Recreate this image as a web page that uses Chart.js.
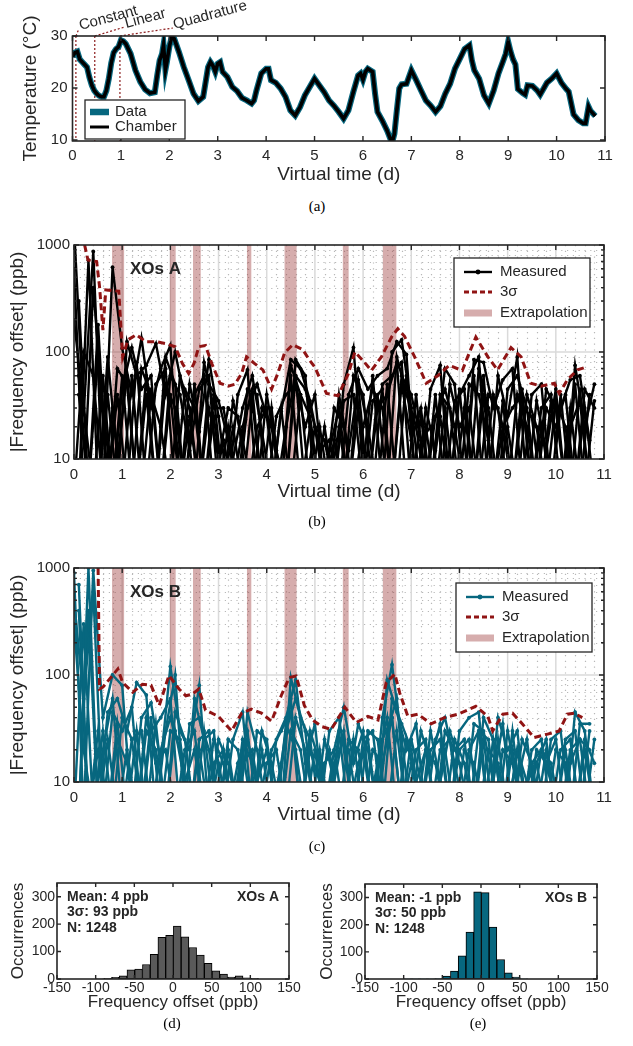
<!DOCTYPE html>
<html><head><meta charset="utf-8">
<script src="https://cdn.jsdelivr.net/npm/chart.js@4.4.0/dist/chart.umd.min.js"></script>
<style>
html,body{margin:0;padding:0;background:#fff;width:633px;height:1046px;overflow:hidden;position:relative}
canvas{position:absolute}
.cap{position:absolute;font-family:"Liberation Serif","Times New Roman",serif;font-size:15px;color:#000;transform:translate(-50%,-50%);white-space:nowrap}
</style></head><body>
<canvas id="ca" width="633" height="195" style="left:0;top:0"></canvas>
<canvas id="cb" width="633" height="290" style="left:0;top:230px"></canvas>
<canvas id="cc" width="633" height="290" style="left:0;top:550px"></canvas>
<canvas id="cd" width="316" height="155" style="left:0;top:860px"></canvas>
<canvas id="ce" width="317" height="155" style="left:316px;top:860px"></canvas>
<div class="cap" style="left:317px;top:206px">(a)</div>
<div class="cap" style="left:317px;top:521px">(b)</div>
<div class="cap" style="left:317px;top:846px">(c)</div>
<div class="cap" style="left:172px;top:1023px">(d)</div>
<div class="cap" style="left:478px;top:1023px">(e)</div>
<script>
// ---------------- DATA ----------------
// (a) temperature
const tempDays = [0,0.05,0.1,0.15,0.2,0.25,0.3,0.35,0.4,0.45,
  0.5,0.55,0.6,0.65,0.7,0.75,0.8,0.85,0.9,0.95,
  1.0,1.05,1.1,1.2,1.3,1.4,1.5,1.6,1.7,1.75,
  1.8,1.85,1.88,1.92,1.95,2.0,2.05,2.1,2.2,2.3,
  2.4,2.5,2.6,2.7,2.8,2.85,2.9,2.95,3.0,3.05,
  3.1,3.2,3.3,3.4,3.5,3.6,3.7,3.75,3.8,3.9,
  4.0,4.05,4.1,4.2,4.3,4.4,4.5,4.6,4.7,4.8,
  4.9,5.0,5.1,5.2,5.3,5.4,5.5,5.6,5.7,5.8,
  5.9,5.95,6.0,6.05,6.1,6.2,6.25,6.3,6.4,6.5,
  6.6,6.65,6.7,6.75,6.8,6.9,7.0,7.1,7.2,7.3,
  7.4,7.5,7.6,7.7,7.8,7.9,8.0,8.1,8.2,8.25,
  8.3,8.4,8.5,8.6,8.7,8.8,8.9,8.95,9.0,9.05,
  9.1,9.15,9.2,9.3,9.35,9.4,9.5,9.6,9.66,9.8,
  9.9,10.0,10.1,10.2,10.25,10.35,10.45,10.55,10.6,10.66,
  10.7,10.8];
const tempC = [26.0,26.8,27.0,25.5,25.0,24.5,24.0,22.0,20.5,19.5,
  18.9,18.5,18.3,18.3,19.5,21.8,24.8,26.8,27.5,27.9,
  29.2,29.0,28.5,26.6,23.4,21.2,19.7,19.0,19.2,22.4,
  25.3,26.6,28.3,23.5,25.0,27.9,29.9,29.5,26.9,24.0,
  21.5,18.9,17.5,18.3,24.0,25.0,24.3,23.1,24.7,25.0,
  23.1,22.1,20.2,19.4,18.1,17.6,17.0,17.6,19.5,22.8,
  23.7,23.7,21.5,21.0,19.9,18.3,15.7,14.7,16.3,18.6,
  20.2,21.8,20.5,19.2,17.6,16.6,15.4,14.1,15.7,19.2,
  22.4,22.8,21.6,23.1,23.7,23.1,18.9,15.4,13.7,11.8,
  9.4,11.2,15.7,19.9,20.7,20.8,23.4,21.5,19.5,17.6,
  16.6,15.4,16.5,18.9,20.8,23.7,25.6,27.5,28.2,25.3,
  23.4,21.8,18.6,17.0,19.5,22.8,25.3,26.6,28.9,27.0,
  25.5,24.5,19.8,19.0,18.7,20.5,20.4,19.5,18.7,21.0,
  21.8,22.8,21.0,19.8,19.3,14.9,13.8,13.2,13.2,16.4,
  15.6,14.6];
const fitMarkers = [0.07, 0.46, 0.98];
const fitLabels = ['Constant', 'Linear', 'Quadrature'];

// (b),(c) sampling times (days)
const tEven = [0,0.2,0.4,0.6,0.8,1,1.2,1.4,1.6,1.8,2,2.2,2.4,2.6,2.8,3,3.2,3.4,3.6,3.8,4,4.2,4.4,4.6,4.8,5,5.2,5.4,5.6,5.8,6,6.2,6.4,6.6,6.8,7,7.2,7.4,7.6,7.8,8,8.2,8.4,8.6,8.8,9,9.2,9.4,9.6,9.8,10,10.2,10.4,10.6,10.8];
const tOdd = [0.1,0.3,0.5,0.7,0.9,1.1,1.3,1.5,1.7,1.9,2.1,2.3,2.5,2.7,2.9,3.1,3.3,3.5,3.7,3.9,4.1,4.3,4.5,4.7,4.9,5.1,5.3,5.5,5.7,5.9,6.1,6.3,6.5,6.7,6.9,7.1,7.3,7.5,7.7,7.9,8.1,8.3,8.5,8.7,8.9,9.1,9.3,9.5,9.7,9.9,10.1,10.3,10.5,10.7];

// (b) XOs A |frequency offset| (ppb)
const xoA1 = [1500,26,870,5,620, 108,40,135,30,70, 115,5,50,18,85, 25,5,40,68,5, 40,12,5,85,60, 5,20,5,50,110, 8,60,5,100,130, 30,5,45,75,5, 40,60,90,5,60, 25,90,5,35,12, 45,5,75,20,50];
const xoA2 = [5,720,5,40,5, 125,60,75,120,40, 100,35,5,80,30, 30,10,30,60,18, 5,28,85,70,35, 12,15,5,40,70, 45,60,70,125,95, 5,30,12,70,50, 5,85,80,30,55, 70,5,40,50,5, 30,55,60,15];
const xoA3 = [600,5,400,30,5, 45,110,45,60,5, 60,40,12,45,60, 5,20,5,45,40, 5,25,40,50,20, 40,5,15,5,60, 40,5,50,60,80, 5,25,5,40,30, 5,50,40,15,5, 45,60,30,5,30, 20,40,5,45,30];
const xoA4 = [300,5,180,5,40, 5,80,5,50,70, 5,45,30,5,40, 5,35,15,5,30, 20,5,60,5,20, 5,12,30,5,30, 5,40,5,90,40, 20,5,40,5,35, 45,5,60,5,35, 5,45,5,30,40, 5,30,5,40];
const xoA5 = [200,30,5,60,5, 60,5,70,40,20, 5,60,30,5,50, 35,15,5,30,50, 25,5,20,60,45, 20,5,30,20,5, 20,45,30,5,60, 40,15,20,5,50, 20,30,5,40,30, 5,40,20,5,45, 30,5,50,5,35];
const xoA6 = [40,5,100,5,70, 50,5,60,5,90, 50,5,40,60,5, 15,5,20,45,5, 30,5,75,40,5, 20,5,40,12,50, 5,30,40,80,5, 40,5,25,45,20, 5,60,5,40,20, 30,40,5,20,5, 40,5,45,5];
const xoA7 = [5,100,60,5,30, 5,60,5,45,5, 40,5,25,5,30, 10,30,25,5,20, 30,5,5,60,5, 20,15,5,35,40, 5,35,45,5,50, 15,30,5,25,5, 45,5,70,30,5, 20,5,40,20,5, 35,20,5,30,5];
const xoA8 = [60,5,5,90,10, 60,5,40,5,50, 30,5,50,5,25, 5,20,5,35,5, 5,30,5,40,25, 5,5,20,5,55, 20,5,50,5,60, 5,20,5,30,5, 30,5,40,5,20, 5,30,25,5,35, 5,20,35,5];
const sigmaA_t = [0.22,0.29,0.47,0.53,0.6,0.66,0.93,1.01,1.12,1.29,1.49,1.7,1.9,2.1,2.25,2.38,2.49,2.59,2.73,2.86,3.03,3.2,3.34,3.48,3.58,3.75,3.92,4.1,4.23,4.37,4.54,4.75,4.88,5.0,5.24,5.48,5.69,5.83,6.03,6.17,6.38,6.59,6.72,6.86,7.07,7.31,7.55,7.79,8.06,8.17,8.34,8.59,8.79,9.07,9.28,9.48,9.69,9.97,10.07,10.24,10.45,10.62];
const sigmaA_v = [1000,724,700,409,160,380,370,90,130,145,125,125,120,112,78,63,78,112,115,78,51,48,50,63,90,78,68,45,63,98,117,105,85,72,41,39,62,100,80,67,90,138,165,140,90,51,60,75,67,90,138,90,68,110,90,51,48,51,41,55,68,72];

// (c) XOs B |frequency offset| (ppb)
const xoB1 = [900,5,950,40,100, 80,5,40,55,15, 120,30,20,80,5, 25,15,5,45,20, 5,25,40,90,15, 35,5,20,50,15, 30,5,40,125,25, 5,30,15,35,5, 30,40,45,5,40, 20,30,5,20,15, 25,5,45,30,5];
const xoB2 = [5,1000,5,45,60, 30,85,65,5,30, 100,5,60,25,30, 5,25,45,5,30, 15,5,95,40,25, 5,30,40,10,35, 20,5,90,45,20, 35,5,25,40,15, 5,35,30,10,35, 5,25,15,5,25, 30,5,35,35];
const xoB3 = [500,60,600,5,45, 30,50,5,30,40, 60,5,35,40,20, 5,25,20,5,30, 25,5,30,60,30, 5,25,10,30,5, 25,30,5,60,35, 20,5,30,10,30, 15,5,30,25,5, 30,10,25,5,20, 5,25,30,5,25];
const xoB4 = [700,5,30,5,35, 5,30,5,35,5, 45,25,5,30,5, 20,5,25,15,5, 20,30,45,5,30, 15,5,25,20,5, 30,25,5,30,5, 20,25,5,30,20, 25,5,40,25,5, 30,5,20,25,5, 20,25,5,30];
const xoB5 = [300,20,5,30,5, 40,25,5,40,5, 30,25,5,25,30, 5,20,5,25,10, 20,5,35,20,5, 20,5,15,25,5, 20,5,25,40,5, 25,10,5,20,25, 5,20,30,5,25, 5,20,5,15,25, 5,20,5,25,15];
const xoB6 = [400,5,20,5,25, 15,5,30,20,5, 30,10,20,5,25, 15,5,20,5,20, 5,15,60,5,20, 10,20,5,25,20, 5,15,40,5,25, 10,20,5,20,5, 20,15,5,25,5, 20,5,15,20,10, 5,15,25,20];
const xoB7 = [5,300,5,20,60, 5,25,30,5,20, 40,20,5,20,5, 15,5,15,30,5, 15,20,5,40,20, 5,15,20,5,25, 5,20,15,40,5, 15,5,20,25,5, 20,25,5,20,15, 5,20,10,15,5, 20,15,5,20,5];
const xoB8 = [5,400,5,25,5, 20,5,40,15,20, 5,20,30,5,15, 20,5,15,20,5, 10,5,30,20,5, 20,5,30,5,15, 25,5,30,60,5, 5,20,15,5,25, 15,5,25,5,20, 15,5,5,20,15, 5,20,25,5];
const sigmaB_t = [0.5,0.53,0.6,0.74,0.91,1.01,1.22,1.42,1.6,1.77,1.97,2.18,2.32,2.45,2.59,2.73,3.0,3.27,3.48,3.68,3.89,4.1,4.3,4.47,4.61,4.78,4.95,5.14,5.34,5.62,5.86,6.1,6.31,6.48,6.66,6.76,6.93,7.14,7.41,7.69,7.97,8.34,8.59,8.69,8.9,9.1,9.28,9.55,9.83,10.07,10.24,10.38,10.55];
const sigmaB_v = [1000,74,77,92,114,85,69,82,80,52,99,74,64,66,74,47,41,30,44,48,44,37,64,95,98,52,38,33,31,50,36,41,38,85,102,68,41,43,35,40,43,51,41,30,43,44,36,26,28,30,43,44,40];

// extrapolation windows (days)
const extrapStart = [0.79, 1.99, 2.47, 3.59, 4.37, 5.58, 6.41];
const extrapEnd   = [1.04, 2.11, 2.63, 3.68, 4.62, 5.70, 6.69];

// (d),(e) histograms
const histCenters = [-94.5,-84.5,-74.5,-64.5,-54.5,-44.5,-34.5,-24.5,-14.5,-4.5,5.5,15.5,25.5,35.5,45.5,55.5,65.5,75.5,85.5,95.5,105.5];
const histCountsA = [1,2,6,12,33,36,53,90,152,159,193,154,115,87,57,30,18,7,12,4,2];
const histCountsB = [1,1,1,1,2,11,29,85,173,321,318,191,72,23,7,1,0,0,0,0,0];
const statsA = ['Mean: 4 ppb', '3σ: 93 ppb', 'N: 1248'];
const statsB = ['Mean: -1 ppb', '3σ: 50 ppb', 'N: 1248'];

// tick labels
const dayTicks = [0,1,2,3,4,5,6,7,8,9,10,11];
const tempTicks = [10,20,30];
const logTicks = [10,100,1000];
const logMinor = [20,30,40,50,60,70,80,90,200,300,400,500,600,700,800,900];
const histXTicks = [-150,-100,-50,0,50,100,150];
const histYTicks = [0,100,200,300];

// ---------------- STYLE ----------------
const INK = '#262626';
const TEAL = '#07677f';
const SRED = '#901414';
const BAND = 'rgba(153,51,51,0.4)';
const FONT = '"Liberation Sans", Arial, Helvetica, sans-serif';
Chart.defaults.font.family = FONT;
Chart.defaults.color = INK;
Chart.defaults.animation = false;
Chart.defaults.plugins.legend.display = false;
Chart.defaults.plugins.tooltip.enabled = false;

const minorDayGrid = [];
for (let k = 1; k < 55; k++) if (k % 5) minorDayGrid.push(k / 5);

function pts(xs, ys) { return xs.map((x, i) => ({x: x, y: ys[i]})); }

function decor(c) {
  return {
    id: 'decor',
    beforeDatasetsDraw(chart) {
      const ctx = chart.ctx, a = chart.chartArea, sx = chart.scales.x, sy = chart.scales.y;
      ctx.save();
      ctx.beginPath(); ctx.rect(a.left, a.top, a.right - a.left, a.bottom - a.top); ctx.clip();
      if (c.minorX) {
        ctx.strokeStyle = '#b8b8b8'; ctx.lineWidth = 1.2; ctx.setLineDash([1.2, 4.6]);
        ctx.beginPath();
        c.minorX.forEach(v => { const p = Math.round(sx.getPixelForValue(v)) + 0.5; ctx.moveTo(p, a.top); ctx.lineTo(p, a.bottom); });
        c.minorY.forEach(v => { const p = Math.round(sy.getPixelForValue(v)) + 0.5; ctx.moveTo(a.left, p); ctx.lineTo(a.right, p); });
        ctx.stroke();
        ctx.strokeStyle = '#dadada'; ctx.lineWidth = 1.5; ctx.setLineDash([]);
        ctx.beginPath();
        c.majorX.forEach(v => { const p = sx.getPixelForValue(v); ctx.moveTo(p, a.top); ctx.lineTo(p, a.bottom); });
        c.majorY.forEach(v => { const p = sy.getPixelForValue(v); ctx.moveTo(a.left, p); ctx.lineTo(a.right, p); });
        ctx.stroke();
      }
      if (c.bands) {
        ctx.fillStyle = BAND;
        c.bands.start.forEach((s, i) => {
          const x0 = sx.getPixelForValue(s), x1 = sx.getPixelForValue(c.bands.end[i]);
          ctx.fillRect(x0, a.top, x1 - x0, a.bottom - a.top);
        });
      }
      if (c.annot) {
        ctx.strokeStyle = c.annot.color; ctx.lineWidth = 1.2; ctx.setLineDash([2, 2]);
        ctx.beginPath();
        c.annot.xs.forEach(v => { const p = sx.getPixelForValue(v); ctx.moveTo(p, a.top); ctx.lineTo(p, a.bottom); });
        ctx.stroke();
      }
      ctx.restore();
    },
    afterDatasetsDraw(chart) {
      const ctx = chart.ctx, a = chart.chartArea, sx = chart.scales.x, sy = chart.scales.y;
      ctx.save();
      if (c.annot) {
        ctx.strokeStyle = c.annot.color; ctx.lineWidth = 1.2; ctx.setLineDash([2, 2]);
        c.annot.xs.forEach((v, i) => {
          const p = sx.getPixelForValue(v), o = c.annot.off[i];
          ctx.beginPath(); ctx.moveTo(p, a.top); ctx.lineTo(p + o[0], a.top + o[1]); ctx.stroke();
          ctx.save();
          ctx.translate(p + o[0] + 1.5, a.top + o[1] + 1);
          ctx.rotate(c.annot.angle * Math.PI / 180);
          ctx.fillStyle = INK; ctx.font = c.annot.font; ctx.textAlign = 'left'; ctx.textBaseline = 'alphabetic';
          ctx.fillText(c.annot.labels[i], 0, 0);
          ctx.restore();
        });
        ctx.setLineDash([]);
      }
      // frame + inward ticks
      ctx.strokeStyle = INK; ctx.lineWidth = 1.6; ctx.setLineDash([]);
      ctx.strokeRect(a.left, a.top, a.right - a.left, a.bottom - a.top);
      ctx.lineWidth = 1.4;
      ctx.beginPath();
      c.tx.forEach(v => { const p = sx.getPixelForValue(v); ctx.moveTo(p, a.bottom); ctx.lineTo(p, a.bottom - c.tl); ctx.moveTo(p, a.top); ctx.lineTo(p, a.top + c.tl); });
      c.ty.forEach(v => { const p = sy.getPixelForValue(v); ctx.moveTo(a.left, p); ctx.lineTo(a.left + c.tl, p); ctx.moveTo(a.right, p); ctx.lineTo(a.right - c.tl, p); });
      (c.tyMinor || []).forEach(v => { const p = sy.getPixelForValue(v); ctx.moveTo(a.left, p); ctx.lineTo(a.left + c.tl * 0.6, p); ctx.moveTo(a.right, p); ctx.lineTo(a.right - c.tl * 0.6, p); });
      ctx.stroke();
      // legend
      if (c.legend) {
        const L = c.legend;
        ctx.fillStyle = '#fff'; ctx.fillRect(a.left + L.x, a.top + L.y, L.w, L.h);
        ctx.strokeStyle = INK; ctx.lineWidth = 1.3; ctx.strokeRect(a.left + L.x, a.top + L.y, L.w, L.h);
        L.items.forEach(it => {
          const y = a.top + it.y, x0 = a.left + L.lx0, x1 = a.left + L.lx1;
          ctx.save();
          if (it.band) { ctx.fillStyle = it.color; ctx.fillRect(x0, y - it.w / 2, x1 - x0, it.w); }
          else {
            ctx.strokeStyle = it.color; ctx.lineWidth = it.w; ctx.setLineDash(it.dash || []);
            ctx.beginPath(); ctx.moveTo(x0, y); ctx.lineTo(x1, y); ctx.stroke();
            if (it.dot) { ctx.fillStyle = it.color; ctx.beginPath(); ctx.arc((x0 + x1) / 2, y, it.dot, 0, Math.PI * 2); ctx.fill(); }
          }
          ctx.restore();
          ctx.fillStyle = INK; ctx.font = L.font; ctx.textAlign = 'left'; ctx.textBaseline = 'middle';
          ctx.fillText(it.label, a.left + L.tx, y);
        });
      }
      (c.texts || []).forEach(t => {
        ctx.fillStyle = INK; ctx.font = t.font; ctx.textAlign = t.align || 'left'; ctx.textBaseline = 'middle';
        ctx.fillText(t.text, t.align === 'right' ? a.right + t.x : a.left + t.x, a.top + t.y);
      });
      ctx.restore();
    }
  };
}

function xAxis(o) {
  return {
    type: 'linear', min: o.min, max: o.max, offset: false,
    afterBuildTicks: s => { s.ticks = o.ticks.map(v => ({value: v})); },
    afterFit: s => { s.height = o.h; },
    grid: {display: false, drawTicks: false}, border: {display: false},
    ticks: {font: {size: o.fs}, color: INK, padding: o.pad, maxRotation: 0, minRotation: 0, autoSkip: false, callback: v => String(v)},
    title: {display: true, text: o.title, font: {size: o.ts}, color: INK, padding: 0}
  };
}
function yAxis(o) {
  return {
    type: o.type || 'linear', min: o.min, max: o.max,
    afterBuildTicks: s => { s.ticks = o.ticks.map(v => ({value: v})); },
    afterFit: s => { s.width = o.w; },
    grid: {display: false, drawTicks: false}, border: {display: false},
    ticks: {font: {size: o.fs}, color: INK, padding: o.pad, autoSkip: false, callback: v => String(v)},
    title: {display: true, text: o.title, font: {size: o.ts}, color: INK, padding: 0}
  };
}

// ---------------- (a) ----------------
new Chart(document.getElementById('ca'), {
  type: 'line',
  data: {datasets: [
    {label: 'Chamber', data: pts(tempDays, tempC), borderColor: '#000', borderWidth: 3.6, pointRadius: 0, tension: 0, clip: 0},
    {label: 'Data', data: pts(tempDays, tempC), borderColor: TEAL, borderWidth: 6, pointRadius: 0, tension: 0, clip: 0}
  ]},
  options: {
    responsive: false, devicePixelRatio: 1, animation: false,
    layout: {padding: {left: 19.6, right: 28, top: 36, bottom: 8.6}},
    scales: {
      x: xAxis({min: 0, max: 11, ticks: dayTicks, h: 45.4, fs: 15, pad: 6, ts: 19, title: 'Virtual time (d)'}),
      y: yAxis({min: 9.8, max: 30, ticks: tempTicks, w: 52.9, fs: 15, pad: 5, ts: 19, title: 'Temperature (°C)'})
    }
  },
  plugins: [decor({
    tx: dayTicks, ty: tempTicks, tl: 5,
    annot: {xs: fitMarkers, labels: fitLabels, off: [[3, -7], [30, -9], [53, -8]], angle: -15, color: '#8b1a1a', font: '15px ' + FONT},
    legend: {x: 12.5, y: 64, w: 100, h: 39, lx0: 17.5, lx1: 36.5, tx: 42.5, font: '15px ' + FONT,
      items: [{label: 'Data', y: 76, color: TEAL, w: 6.5}, {label: 'Chamber', y: 91, color: '#000', w: 3}]}
  })]
});

// ---------------- (b),(c) ----------------
function freqChart(id, series, color, sigT, sigV, tag, leg, padT) {
  const ds = [{label: '3σ', data: pts(sigT, sigV), borderColor: SRED, borderWidth: 3, borderDash: [7, 4], pointRadius: 0, tension: 0, clip: 0}];
  series.forEach(s => ds.push({label: 'Measured', data: pts(s.t, s.v), borderColor: color, backgroundColor: color,
    borderWidth: 2.4, pointRadius: 1.9, pointBorderWidth: 0, pointBackgroundColor: color, tension: 0, clip: 0}));
  new Chart(document.getElementById(id), {
    type: 'line',
    data: {datasets: ds},
    options: {
      responsive: false, devicePixelRatio: 1, animation: false,
      layout: {padding: {left: 6.6, right: 29, top: padT, bottom: 290 - padT - 214 - 44.4}},
      scales: {
        x: xAxis({min: 0, max: 11, ticks: dayTicks, h: 44.4, fs: 15, pad: 6.5, ts: 19, title: 'Virtual time (d)'}),
        y: yAxis({type: 'logarithmic', min: 10, max: 1000, ticks: logTicks, w: 67.4, fs: 15, pad: 4, ts: 19, title: '|Frequency offset| (ppb)'})
      }
    },
    plugins: [decor({
      minorX: minorDayGrid, minorY: logMinor, majorX: dayTicks, majorY: [100],
      bands: {start: extrapStart, end: extrapEnd},
      tx: dayTicks, ty: logTicks, tyMinor: logMinor, tl: 5,
      legend: {x: leg.x, y: leg.y, w: 136, h: 69, lx0: leg.x + 10, lx1: leg.x + 38, tx: leg.x + 46, font: '15px ' + FONT,
        items: [
          {label: 'Measured', y: leg.y + 14, color: color, w: 2.4, dot: 2.4},
          {label: '3σ', y: leg.y + 34, color: SRED, w: 3, dash: [5, 3]},
          {label: 'Extrapolation', y: leg.y + 55, color: BAND, w: 7, band: true}
        ]},
      texts: [{text: tag, x: 56, y: 24, font: 'bold 17px ' + FONT}]
    })]
  });
}
freqChart('cb', [{t: tEven, v: xoA1}, {t: tOdd, v: xoA2}, {t: tEven, v: xoA3}, {t: tOdd, v: xoA4},
  {t: tEven, v: xoA5}, {t: tOdd, v: xoA6}, {t: tEven, v: xoA7}, {t: tOdd, v: xoA8}],
  '#000', sigmaA_t, sigmaA_v, 'XOs A', {x: 380, y: 13}, 15);
freqChart('cc', [{t: tEven, v: xoB1}, {t: tOdd, v: xoB2}, {t: tEven, v: xoB3}, {t: tOdd, v: xoB4},
  {t: tEven, v: xoB5}, {t: tOdd, v: xoB6}, {t: tEven, v: xoB7}, {t: tOdd, v: xoB8}],
  TEAL, sigmaB_t, sigmaB_v, 'XOs B', {x: 382, y: 15}, 18);

// ---------------- (d),(e) ----------------
function histChart(id, counts, fill, stats, tag, padL, yW, padR, padT) {
  new Chart(document.getElementById(id), {
    type: 'bar',
    data: {datasets: [{label: 'Occurrences', data: pts(histCenters, counts), backgroundColor: fill, borderColor: '#000',
      borderWidth: 1, borderSkipped: false, barPercentage: 1, categoryPercentage: 1, grouped: false}]},
    options: {
      responsive: false, devicePixelRatio: 1, animation: false,
      layout: {padding: {left: padL, right: padR, top: padT, bottom: 155 - padT - (119 - padT) - 33.2}},
      scales: {
        x: xAxis({min: -150, max: 150, ticks: histXTicks, h: 33.2, fs: 14, pad: 1, ts: 17, title: 'Frequency offset (ppb)'}),
        y: yAxis({min: 0, max: 350, ticks: histYTicks, w: yW, fs: 14, pad: 2, ts: 17, title: 'Occurrences'})
      }
    },
    plugins: [decor({
      tx: histXTicks, ty: histYTicks, tl: 4,
      texts: [
        {text: stats[0], x: 10, y: 14, font: 'bold 14px ' + FONT},
        {text: stats[1], x: 10, y: 29, font: 'bold 14px ' + FONT},
        {text: stats[2], x: 10, y: 45, font: 'bold 14px ' + FONT},
        {text: tag, x: -10, y: 14, font: 'bold 14px ' + FONT, align: 'right'}
      ]
    })]
  });
}
histChart('cd', histCountsA, '#5a5a5a', statsA, 'XOs A', 7.8, 49.2, 27, 23);
histChart('ce', histCountsB, TEAL, statsB, 'XOs B', 0.8, 48.2, 36, 24);
</script>
</body></html>
